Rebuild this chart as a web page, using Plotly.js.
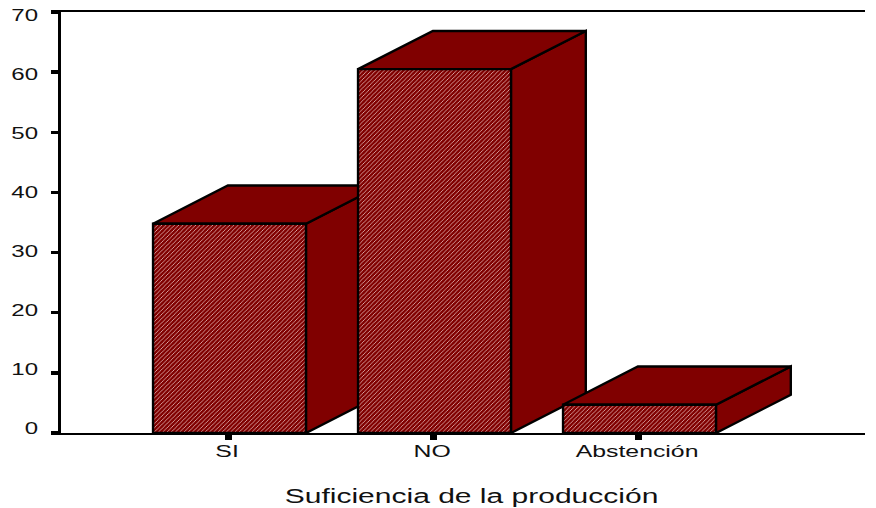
<!DOCTYPE html>
<html>
<head>
<meta charset="utf-8">
<script src="https://cdn.plot.ly/plotly-3.0.1.min.js"></script>
<style>html,body{margin:0;padding:0;background:#fff}</style>
</head>
<body>
<div id="chart" style="width:876px;height:508px"></div>
<script>
const categories = ['SI', 'NO', 'Abstención'];
const values = [34.8, 60.5, 4.7];
const yTickValues = [0, 10, 20, 30, 40, 50, 60, 70];
const xTitle = 'Suficiencia de la producción';

const barWidth = 0.746;
const barShift = 0.007;
const depthX = 0.365;
const depthY = 6.35;
const darkRed = '#800000';
const fontFamily = '"Liberation Sans", Arial, sans-serif';

function face(xs, ys, pattern) {
  const t = {
    type: 'scatter', mode: 'lines', x: xs, y: ys, fill: 'toself',
    fillcolor: darkRed, hoverinfo: 'skip', showlegend: false, cliponaxis: false,
    line: {color: '#000', width: 2.4, simplify: false}
  };
  if (pattern) {
    t.fillpattern = {shape: '/', size: 3, solidity: 0.28, fgcolor: '#e0b0b0', bgcolor: darkRed, fillmode: 'replace'};
  }
  return t;
}

const traces = [];
categories.forEach((c, i) => {
  const l = i + barShift - barWidth / 2, r = i + barShift + barWidth / 2, v = values[i];
  traces.push(face([r, r + depthX, r + depthX, r, r], [0, depthY, v + depthY, v, 0]));
  traces.push(face([l, l + depthX, r + depthX, r, l], [v, v + depthY, v + depthY, v, v]));
  traces.push(face([l, r, r, l, l], [0, 0, v, v, 0], true));
});
// carries the y tick labels, which sit a little off their tick marks in the reference
traces.push({type: 'scatter', mode: 'markers', x: [0], y: [0], yaxis: 'y2',
  marker: {opacity: 0}, hoverinfo: 'skip', showlegend: false});

const layout = {
  width: 876, height: 508, autosize: false,
  margin: {l: 61, r: 11, t: 12, b: 75},
  paper_bgcolor: '#fff', plot_bgcolor: '#fff',
  font: {family: fontFamily, color: '#111', size: 16},
  showlegend: false, hovermode: false,
  xaxis: {
    range: [-0.815, 3.107], tickmode: 'array', tickvals: [0, 1, 2], ticktext: categories,
    showgrid: false, zeroline: false, showline: true, linecolor: '#000', linewidth: 2, mirror: true,
    ticks: 'outside', ticklen: 5, tickwidth: 7, tickcolor: '#000', ticklabelstandoff: -2,
    tickfont: {size: 16, family: fontFamily, color: '#111'}
  },
  yaxis: {
    range: [0, 70], tickmode: 'array', tickvals: yTickValues, showticklabels: false,
    showgrid: false, zeroline: false, showline: true, linecolor: '#000', linewidth: 3,
    ticks: 'outside', ticklen: 7, tickwidth: 3.5, tickcolor: '#000'
  },
  yaxis2: {
    overlaying: 'y', side: 'left', range: [-0.85, 70.5], tickmode: 'array', tickvals: yTickValues,
    showgrid: false, zeroline: false, showline: false, ticks: '',
    ticklabelstandoff: 22,
    tickfont: {size: 16, family: fontFamily, color: '#111'}
  },
  annotations: [{
    text: xTitle, xref: 'paper', yref: 'paper', x: 0.5105, y: -0.149,
    xanchor: 'center', yanchor: 'middle', showarrow: false,
    font: {size: 20, family: fontFamily, color: '#111'}
  }]
};

Plotly.newPlot('chart', traces, layout, {displayModeBar: false, staticPlot: true}).then(gd => {
  // the reference's lettering is about 1.5 times wider than the regular font
  gd.querySelectorAll('.y2tick text, .annotation-text').forEach(t => {
    t.setAttribute('lengthAdjust', 'spacingAndGlyphs');
    t.setAttribute('textLength', t.getComputedTextLength() * 1.5);
  });
  gd.querySelectorAll('.xtick text').forEach(t => {
    t.setAttribute('lengthAdjust', 'spacingAndGlyphs');
    t.setAttribute('textLength', t.getComputedTextLength() * 1.55);
    t.setAttribute('dx', -1);
  });
});
</script>
</body>
</html>
